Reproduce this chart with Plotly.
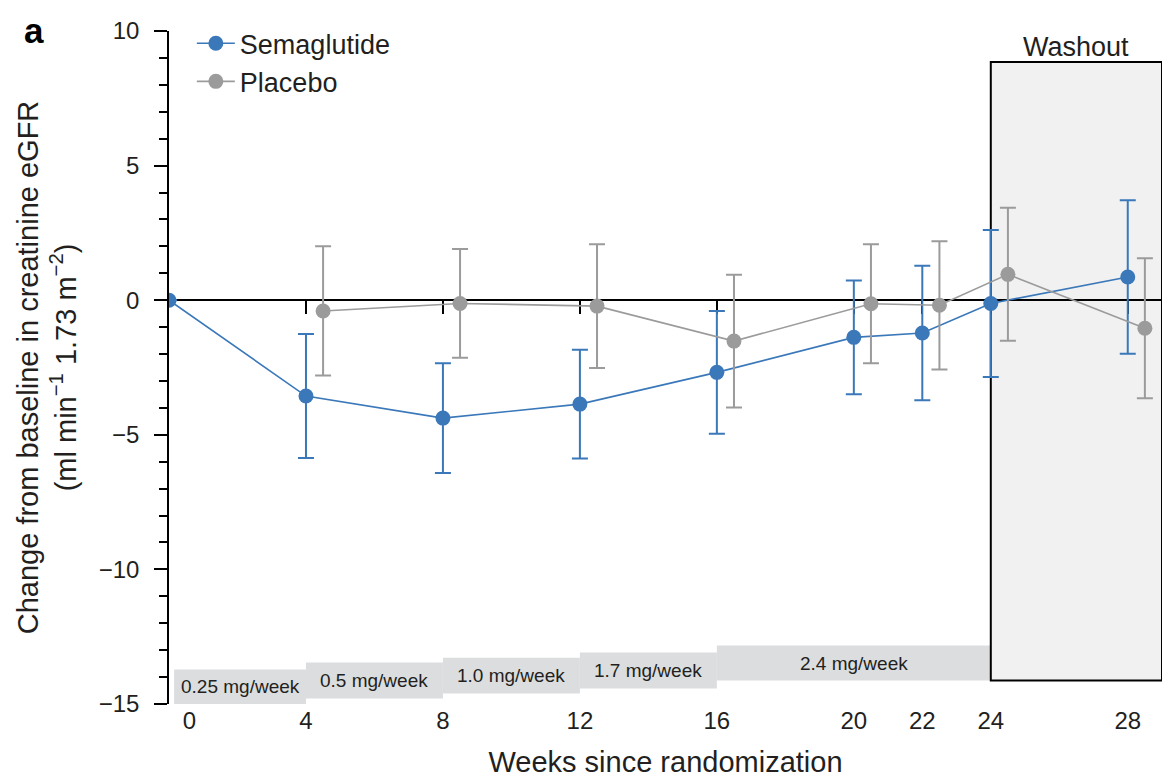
import plotly.graph_objects as go

# ---------------- data ----------------
weeks = [0, 4, 8, 12, 16, 20, 22, 24, 28]
tick_labels = ["0", "4", "8", "12", "16", "20", "22", "24", "28"]

sema_mean = [0.0, -3.56, -4.38, -3.86, -2.68, -1.38, -1.22, -0.12, 0.86]
sema_err = [0.0, 2.30, 2.04, 2.02, 2.28, 2.11, 2.50, 2.73, 2.85]

placebo_weeks = [4.5, 8.5, 12.5, 16.5, 20.5, 22.5, 24.5, 28.5]
placebo_mean = [-0.40, -0.12, -0.22, -1.52, -0.13, -0.19, 0.96, -1.04]
placebo_err = [2.40, 2.02, 2.30, 2.47, 2.21, 2.38, 2.47, 2.60]

dose_labels = ["0.25 mg/week", "0.5 mg/week", "1.0 mg/week", "1.7 mg/week", "2.4 mg/week"]
dose_start = [0.15, 4, 8, 12, 16]
dose_end = [4, 8, 12, 16, 24]
dose_top = [-13.72, -13.46, -13.28, -13.09, -12.83]
dose_bottom = [-15.0, -14.80, -14.61, -14.42, -14.13]

washout_start, washout_end = 24, 29
washout_top, washout_bottom = 8.85, -14.13

# ---------------- style ----------------
BLUE = "#3a78b9"
GRAY = "#9b9b9b"
TXT = "#231f20"
FONT = "Liberation Sans, Arial, sans-serif"

fig = go.Figure()

fig.add_trace(go.Scatter(
    x=weeks, y=sema_mean, mode="lines+markers", name="Semaglutide",
    legendgroup="s",
    line=dict(color=BLUE, width=1.6),
    marker=dict(color=BLUE, size=15),
    error_y=dict(type="data", array=sema_err, visible=True,
                 color=BLUE, thickness=2, width=8),
))
fig.add_trace(go.Scatter(
    x=placebo_weeks, y=placebo_mean, mode="lines+markers", name="Placebo",
    legendgroup="p",
    line=dict(color=GRAY, width=1.6),
    marker=dict(color=GRAY, size=15),
    error_y=dict(type="data", array=placebo_err, visible=True,
                 color=GRAY, thickness=2, width=8),
))
# invisible trace to activate the zero-line axis
fig.add_trace(go.Scatter(x=[washout_end], y=[0], xaxis="x2", mode="markers",
                         marker=dict(opacity=0), showlegend=False, hoverinfo="skip"))

shapes = []
annotations = []
for lab, x0, x1, y1, y0 in zip(dose_labels, dose_start, dose_end, dose_top, dose_bottom):
    shapes.append(dict(type="rect", xref="x", yref="y", x0=x0, x1=x1, y0=y0, y1=y1,
                       fillcolor="#dcdddf", line=dict(width=0), layer="below"))
    annotations.append(dict(x=(x0 + x1) / 2, y=(y0 + y1) / 2, xref="x", yref="y",
                            text=lab, showarrow=False,
                            font=dict(size=19, color=TXT, family=FONT)))

shapes.append(dict(type="rect", xref="x", yref="y", x0=washout_start, x1=washout_end,
                   y0=washout_bottom, y1=washout_top, fillcolor="#f1f1f1",
                   line=dict(color="black", width=2), layer="below"))
annotations.append(dict(x=(washout_start + washout_end) / 2, y=washout_top, xref="x", yref="y",
                        text="Washout", showarrow=False, yanchor="bottom", yshift=-2,
                        font=dict(size=27, color=TXT, family=FONT)))

# panel letter, anchored at the very top of the figure
W, H = 1167, 773
ML, MR, MT, MB = 161, 13, 22, 77
plot_w, plot_h = W - ML - MR, H - MT - MB
annotations.append(dict(x=-(ML - 14) / plot_w, y=1 + MT / plot_h, xref="paper", yref="paper",
                        text="<b>a</b>", showarrow=False, xanchor="left", yanchor="top",
                        font=dict(size=35, color="black", family=FONT)))

tick_pos = [w + (0.6 if w == 0 else 0) for w in weeks]

fig.update_layout(
    width=W, height=H,
    margin=dict(l=ML, r=MR, t=MT, b=MB),
    plot_bgcolor="white", paper_bgcolor="white",
    font=dict(family=FONT, color=TXT),
    shapes=shapes, annotations=annotations,
    showlegend=True,
    legend=dict(x=0.023, y=1.016, xanchor="left", yanchor="top",
                font=dict(size=27, color=TXT, family=FONT), itemwidth=38,
                bgcolor="rgba(0,0,0,0)", traceorder="grouped", tracegroupgap=0),
    xaxis=dict(range=[0, washout_end], showline=False, showgrid=False, zeroline=False,
               automargin=False,
               ticks="", tickvals=tick_pos, ticktext=tick_labels,
               tickfont=dict(size=24, color=TXT),
               title=dict(text="Weeks since randomization", font=dict(size=29, color=TXT),
                          standoff=18)),
    xaxis2=dict(range=[0, washout_end], overlaying="x", anchor="free", position=0.6,
                side="bottom", showline=True, linecolor="black", linewidth=1.6,
                ticks="outside", ticklen=13, tickwidth=2, tickcolor="black",
                tickvals=weeks[1:], showticklabels=False, showgrid=False,
                zeroline=False, layer="below traces", automargin=False),
    yaxis=dict(range=[-15, 10], showline=True, linecolor="black", linewidth=1.6,
               showgrid=False, zeroline=False, automargin=False,
               ticks="outside", ticklen=13, tickwidth=1.6, tickcolor="black",
               ticklabelstandoff=10,
               tick0=0, dtick=5, tickfont=dict(size=24, color=TXT),
               minor=dict(dtick=1, ticks="outside", ticklen=8, tickwidth=1.6,
                          tickcolor="black", showgrid=False),
               title=dict(text="Change from baseline in creatinine eGFR<br>"
                               "(ml min<sup>−1</sup> 1.73 m<sup>−2</sup>)",
                          font=dict(size=29, color=TXT), standoff=14)),
)

fig.write_html("out.html")
